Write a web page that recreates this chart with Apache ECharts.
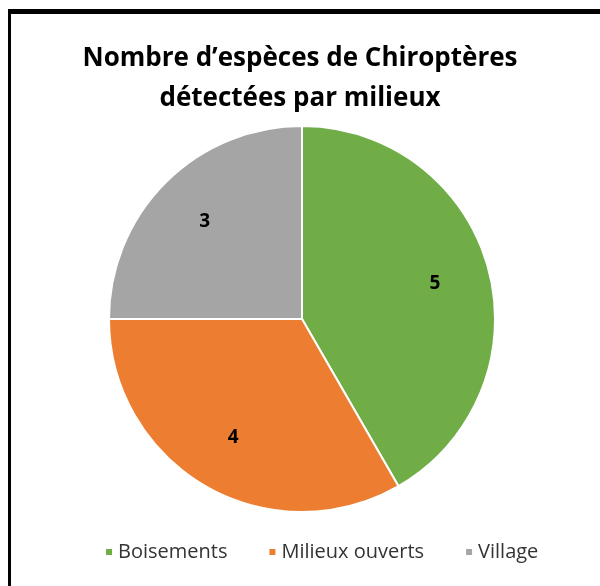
<!DOCTYPE html>
<html>
<head>
<meta charset="utf-8">
<script src="https://cdn.jsdelivr.net/npm/echarts@6/dist/echarts.min.js"></script>
<style>
  html, body { margin: 0; padding: 0; background: #fff; }
  #wrap { position: relative; width: 600px; height: 586px; }
  #chart { width: 600px; height: 586px; }
  /* cadre noir haut + gauche comme sur l'image */
  #frame {
    position: absolute; left: 8px; top: 9px; right: 0; bottom: 0;
    border-top: 5px solid #000; border-left: 3px solid #000;
    pointer-events: none;
  }
</style>
</head>
<body>
<div id="wrap">
  <div id="chart"></div>
  <div id="frame"></div>
</div>
<script>
  // données
  var milieux = ['Boisements', 'Milieux ouverts', 'Village'];
  var nbEspeces = [5, 4, 3];
  var couleurs = ['#70AD47', '#ED7D31', '#A5A5A5'];

  var chart = echarts.init(document.getElementById('chart'));

  var data = [];
  for (var i = 0; i < milieux.length; i++) {
    data.push({ name: milieux[i], value: nbEspeces[i] });
  }

  var option = {
    animation: false,
    color: couleurs,
    title: {
      text: 'Nombre d\u2019espèces de Chiroptères\ndétectées par milieux',
      left: 'center',
      top: 34,
      textStyle: {
        fontFamily: 'Open Sans',
        fontWeight: 'bold',
        fontSize: 26,
        lineHeight: 40,
        color: '#000'
      }
    },
    legend: {
      data: milieux,
      bottom: 19,
      left: 99,
      icon: 'rect',
      itemWidth: 8,
      itemHeight: 8,
      itemGap: 40,
      textStyle: {
        fontFamily: 'Open Sans',
        fontSize: 20,
        color: '#333'
      }
    },
    series: [
      {
        // camembert principal
        type: 'pie',
        center: [302, 319],
        radius: [0, 193],
        startAngle: 90,
        clockwise: true,
        silent: true,
        data: data,
        itemStyle: { borderColor: '#fff', borderWidth: 2 },
        label: { show: false },
        labelLine: { show: false }
      },
      {
        // série transparente pour placer les étiquettes plus loin du centre
        type: 'pie',
        center: [302, 319],
        radius: [76, 193],
        startAngle: 90,
        clockwise: true,
        silent: true,
        data: data,
        itemStyle: { color: 'transparent' },
        label: {
          show: true,
          position: 'inside',
          formatter: '{c}',
          fontFamily: 'Open Sans',
          fontWeight: 'bold',
          fontSize: 19,
          color: '#000'
        },
        labelLine: { show: false }
      }
    ]
  };

  chart.setOption(option);
</script>
</body>
</html>
